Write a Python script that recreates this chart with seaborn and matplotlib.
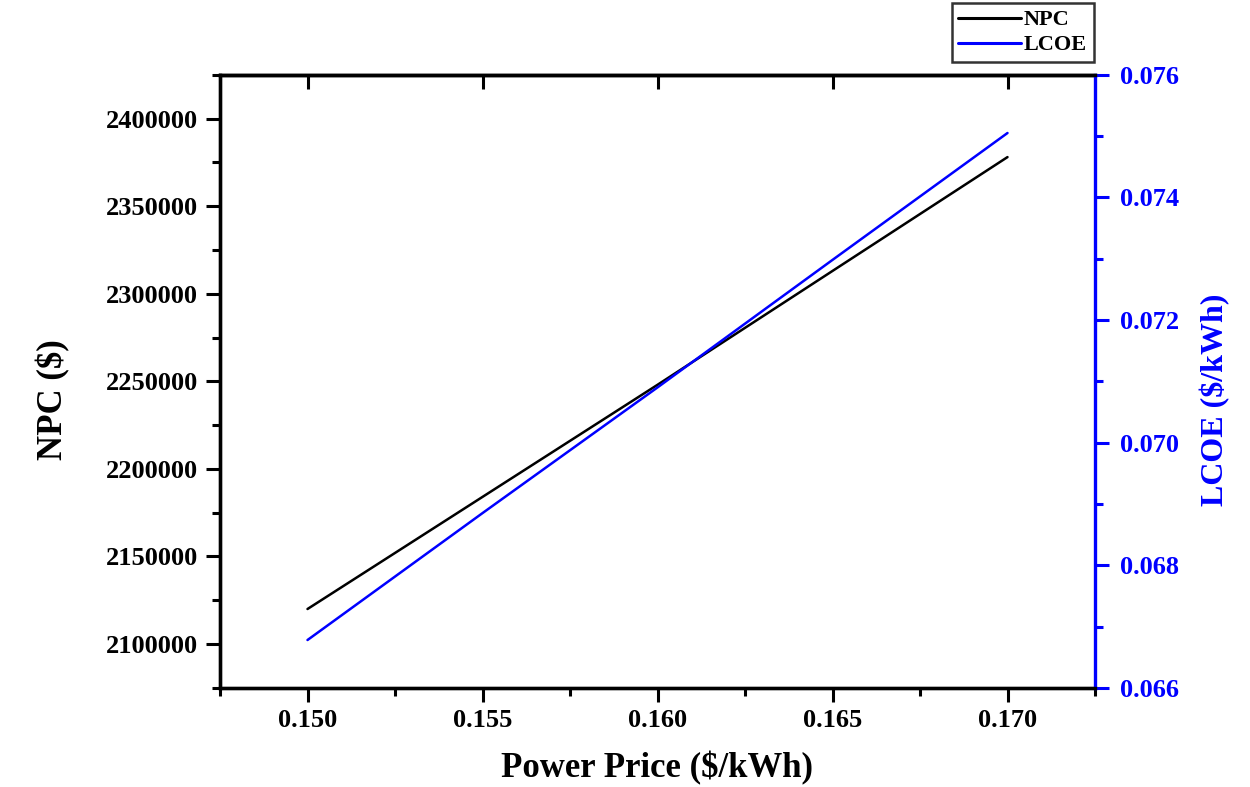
import matplotlib
matplotlib.use("Agg")
import matplotlib.pyplot as plt
import seaborn as sns
import pandas as pd
from matplotlib.ticker import MultipleLocator, FormatStrFormatter
from matplotlib.lines import Line2D

sns.set_style("ticks")
plt.rcParams['font.family'] = ['Liberation Serif', 'DejaVu Serif']
plt.rcParams['font.weight'] = 'bold'
plt.rcParams['text.color'] = 'black'
plt.rcParams['axes.labelcolor'] = 'black'
plt.rcParams['xtick.color'] = 'black'
plt.rcParams['ytick.color'] = 'black'

power_price = [0.150, 0.155, 0.160, 0.165, 0.170]
npc = [2120000, 2184000, 2248000, 2313000, 2378000]
lcoe = [0.06678, 0.06885, 0.07090, 0.07298, 0.07505]

df = pd.DataFrame({"price": power_price, "NPC": npc, "LCOE": lcoe})

fig = plt.figure(figsize=(12.5, 7.87), dpi=100)
ax = fig.add_axes([0.176, 0.126, 0.7, 0.779])
ax2 = ax.twinx()

sns.lineplot(data=df, x="price", y="NPC", ax=ax, color="black", lw=1.8, legend=False)
sns.lineplot(data=df, x="price", y="LCOE", ax=ax2, color="#0000ff", lw=1.8, legend=False)

ax.set_xlim(0.1475, 0.1725)
ax.set_ylim(2075000, 2425000)
ax2.set_ylim(0.066, 0.076)

ax.xaxis.set_major_locator(MultipleLocator(0.005))
ax.xaxis.set_minor_locator(MultipleLocator(0.0025))
ax.xaxis.set_major_formatter(FormatStrFormatter('%.3f'))
ax.yaxis.set_major_locator(MultipleLocator(50000))
ax.yaxis.set_minor_locator(MultipleLocator(25000))
ax.yaxis.set_major_formatter(FormatStrFormatter('%d'))
ax2.yaxis.set_major_locator(MultipleLocator(0.002))
ax2.yaxis.set_minor_locator(MultipleLocator(0.001))
ax2.yaxis.set_major_formatter(FormatStrFormatter('%.3f'))

for a in (ax, ax2):
    for s in a.spines.values():
        s.set_linewidth(2.4)
        s.set_visible(True)
        s.set_color('black')
ax2.spines['right'].set_color('#0000ff')
ax.spines['right'].set_visible(False)

ax.tick_params(axis='x', which='major', direction='out', length=10, width=2.2, labelsize=19,
               pad=5, top=False, colors='black')
ax.tick_params(axis='x', which='minor', direction='out', length=6, width=2.2, colors='black')
ax.tick_params(axis='y', which='major', direction='out', length=10, width=2.2, labelsize=19,
               pad=6, colors='black')
ax.tick_params(axis='y', which='minor', direction='out', length=6, width=2.2, colors='black')
ax2.tick_params(axis='y', which='major', direction='out', length=10, width=2.2, labelsize=19,
                colors='#0000ff', labelcolor='#0000ff', pad=8)
ax2.tick_params(axis='y', which='minor', direction='out', length=6, width=2.2, colors='#0000ff')

# top inward ticks at major x positions
secx = ax.secondary_xaxis('top')
secx.xaxis.set_major_locator(MultipleLocator(0.005))
secx.tick_params(axis='x', direction='in', length=10, width=2.2, labeltop=False, colors='black')
secx.spines['top'].set_linewidth(2.4)
secx.spines['top'].set_color('black')

for lab in ax.get_xticklabels() + ax.get_yticklabels() + ax2.get_yticklabels():
    lab.set_fontweight('bold')

ax.set_xlabel("Power Price ($/kWh)", fontsize=25, fontweight='bold', labelpad=14, color='black')
ax.set_ylabel("NPC ($)", fontsize=25, fontweight='bold', color='black')
ax2.set_ylabel("LCOE ($/kWh)", fontsize=23, fontweight='bold', color='#0000ff')
ax.yaxis.set_label_coords(-0.171, 0.47)
ax2.yaxis.set_label_coords(1.12, 0.47)

handles = [Line2D([], [], color='black', lw=2.2), Line2D([], [], color='#0000ff', lw=2.2)]
leg = fig.legend(handles, ["NPC", "LCOE"], loc='upper right', bbox_to_anchor=(0.875, 0.996),
                 frameon=True, fancybox=False, edgecolor='black',
                 prop={'weight': 'bold', 'size': 16}, handlelength=2.8, handletextpad=0.15,
                 borderpad=0.3, labelspacing=0.2, borderaxespad=0)
leg.get_frame().set_linewidth(1.8)

fig.savefig("out.png", dpi=100)
